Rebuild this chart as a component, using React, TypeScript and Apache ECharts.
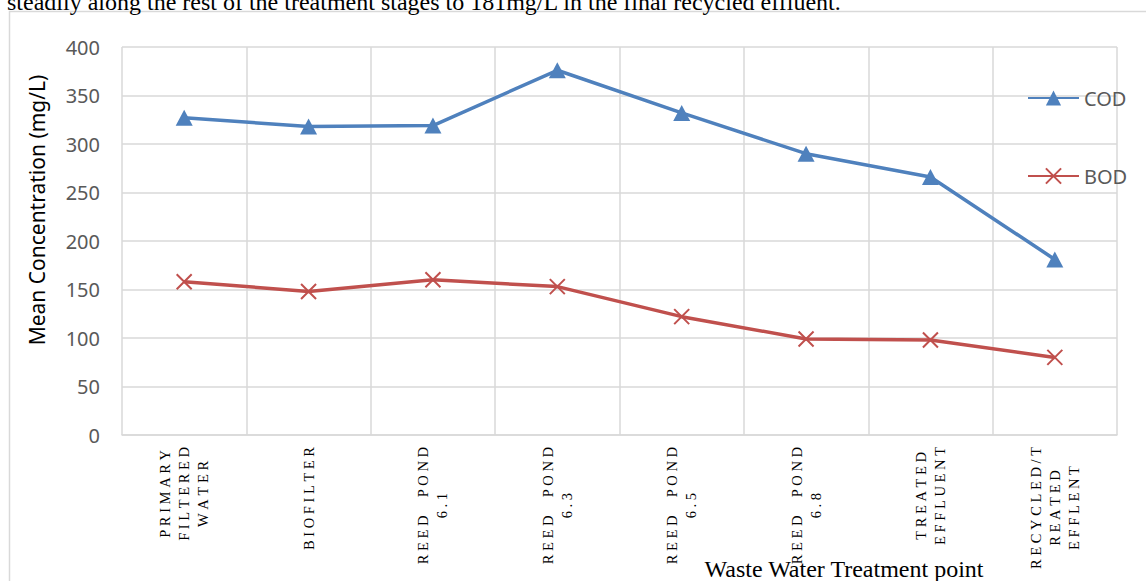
import React, { useEffect, useRef } from "react";
import * as echarts from "echarts";

const categories = [
  "PRIMARY\nFILTERED\nWATER",
  "BIOFILTER",
  "REED POND\n6.1",
  "REED POND\n6.3",
  "REED POND\n6.5",
  "REED POND\n6.8",
  "TREATED\nEFFLUENT",
  "RECYCLED/T\nREATED\nEFFLENT",
];
const codValues = [327, 318, 319, 376, 332, 290, 266, 181];
const bodValues = [158, 148, 160, 153, 122, 99, 98, 80];
const seriesNames = ["COD", "BOD"];
const yTitle = "Mean Concentration (mg/L)";
const xTitle = "Waste Water Treatment point";
const topText =
  "steadily along the rest of the treatment stages to 181mg/L in the final recycled effluent.";

const SERIF = "'Liberation Serif', 'Times New Roman', serif";
const SANS = "'Noto Sans', 'Open Sans', sans-serif";

const spaced = (s: string) =>
  s
    .split("")
    .map((ch) => (ch === " " ? "\u2005\u2005\u2005" : ch))
    .join("\u2005");

export default function App() {
  const ref = useRef<HTMLDivElement>(null);
  useEffect(() => {
    if (!ref.current) return;
    const chart = echarts.init(ref.current, undefined, { renderer: "svg" });
    chart.setOption({
      animation: false,
      backgroundColor: "#ffffff",
      grid: { left: 122, right: 29, top: 47, bottom: 146 },
      legend: {
        data: seriesNames,
        orient: "vertical",
        left: 1022,
        top: 83,
        itemWidth: 51,
        itemHeight: 19,
        itemGap: 58,
        textStyle: { fontSize: 20, color: "#595959", fontFamily: SANS },
      },
      xAxis: {
        type: "category",
        data: categories,
        boundaryGap: true,
        axisLine: { show: true, lineStyle: { color: "#d9d9d9", width: 1.5 } },
        axisTick: { show: false },
        splitLine: { show: true, interval: 0, lineStyle: { color: "#d9d9d9", width: 1.5 } },
        axisLabel: {
          interval: 0,
          rotate: 90,
          margin: 12,
          color: "#000000",
          formatter: (v: string) =>
            v
              .split("\n")
              .map((l) => `{c|${spaced(l)}}`)
              .join("\n"),
          rich: {
            c: {
              align: "center",
              fontFamily: SERIF,
              fontSize: 14.5,
              lineHeight: 19,
              color: "#000000",
            },
          },
        },
      },
      yAxis: {
        type: "value",
        min: 0,
        max: 400,
        interval: 50,
        axisLine: { show: false },
        axisTick: { show: false },
        splitLine: { show: true, lineStyle: { color: "#d9d9d9", width: 1.5 } },
        axisLabel: { fontSize: 20, color: "#595959", fontFamily: SANS, margin: 22 },
      },
      series: [
        {
          name: seriesNames[0],
          type: "line",
          data: codValues,
          symbol: "triangle",
          symbolSize: [17, 16],
          lineStyle: { color: "#4f81bd", width: 3.5 },
          itemStyle: { color: "#4f81bd", borderWidth: 0 },
        },
        {
          name: seriesNames[1],
          type: "line",
          data: bodValues,
          symbol: "path://M0,0L10,10M10,0L0,10",
          symbolSize: 15,
          lineStyle: { color: "#c0504d", width: 3.5 },
          itemStyle: { color: "rgba(0,0,0,0)", borderColor: "#c0504d", borderWidth: 2 },
        },
      ],
      graphic: [
        {
          type: "rect",
          shape: { x: 9.5, y: 11.5, width: 1300, height: 700 },
          style: { fill: "none", stroke: "#d9d9d9", lineWidth: 1.5 },
          silent: true,
          z: -1,
        },
        {
          type: "text",
          x: 7,
          y: 1.5,
          style: {
            text: topText,
            font: `24px ${SERIF}`,
            fill: "#000000",
            align: "left",
            verticalAlign: "middle",
          },
        },
        {
          type: "text",
          x: 37,
          y: 210,
          rotation: Math.PI / 2,
          style: {
            text: yTitle,
            font: `21px ${SANS}`,
            fill: "#000000",
            align: "center",
            verticalAlign: "middle",
          },
        },
        {
          type: "text",
          x: 844,
          y: 569,
          style: {
            text: xTitle,
            font: `24px ${SERIF}`,
            fill: "#000000",
            align: "center",
            verticalAlign: "middle",
          },
        },
      ],
    });
    return () => chart.dispose();
  }, []);
  return (
    <div
      ref={ref}
      style={{ position: "fixed", left: 0, top: 0, width: 1146, height: 581 }}
    />
  );
}
